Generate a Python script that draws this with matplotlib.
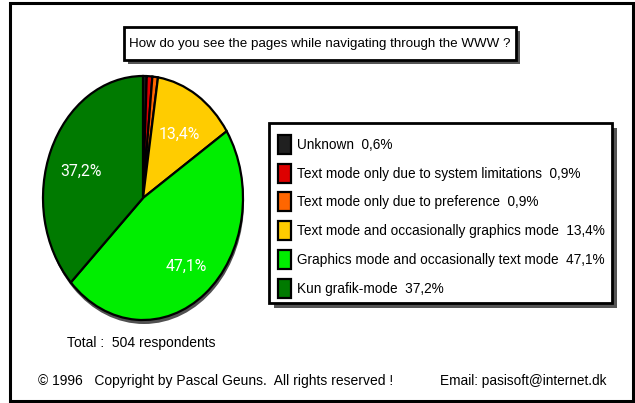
import matplotlib
matplotlib.use("Agg")
import matplotlib.pyplot as plt
from matplotlib.patches import Rectangle, Ellipse
import numpy as np

# ---- data ----
categories = [
    "Unknown",
    "Text mode only due to system limitations",
    "Text mode only due to preference",
    "Text mode and occasionally graphics mode",
    "Graphics mode and occasionally text mode",
    "Kun grafik-mode",
]
values = [0.6, 0.9, 0.9, 13.4, 47.1, 37.2]
colors = ["#202020", "#dd0000", "#ff6600", "#ffcc00", "#00ee00", "#007a00"]
title = "How do you see the pages while navigating through the WWW ?"
total_text = "Total :  504 respondents"
copyright_text = "\u00a9 1996   Copyright by Pascal Geuns.  All rights reserved !"
email_text = "Email: pasisoft@internet.dk"

def fmt(v):
    return f"{v:.1f}".replace(".", ",") + "%"

W, H = 635, 403
DPI = 100
FONT = ["Liberation Sans Narrow", "Liberation Sans", "DejaVu Sans"]

fig = plt.figure(figsize=(W / DPI, H / DPI), dpi=DPI)
fig.patch.set_facecolor("white")

# pixel-coordinate overlay axes
base = fig.add_axes([0, 0, 1, 1])
base.set_xlim(0, W)
base.set_ylim(H, 0)
base.axis("off")

# outer frame
base.add_patch(Rectangle((10, 3), 623, 398, fill=False, ec="black", lw=2.2))

# title box with shadow
base.add_patch(Rectangle((128, 31), 392, 33, fc="#555555", ec="none"))
base.add_patch(Rectangle((124, 27), 392, 33, fc="white", ec="black", lw=2))
base.text(320, 44, title, ha="center", va="center", fontsize=9.6, family=FONT)

# legend box with shadow
base.add_patch(Rectangle((274, 128), 343, 180, fc="#555555", ec="none"))
base.add_patch(Rectangle((269, 123), 343, 180, fc="white", ec="black", lw=2))
row_y0, row_dy = 144.5, 28.7
for i, (lab, v, c) in enumerate(zip(categories, values, colors)):
    y = row_y0 + i * row_dy
    base.add_patch(Rectangle((278, y - 9.5), 13, 19, fc=c, ec="black", lw=1.6))
    base.text(297, y + 0.5, f"{lab}  {fmt(v)}", ha="left", va="center",
              fontsize=9.85, family=FONT)

# footer texts
base.text(67, 343, total_text, ha="left", va="center", fontsize=10, family=FONT)
base.text(38, 381, copyright_text, ha="left", va="center", fontsize=10, family=FONT)
base.text(440, 381, email_text, ha="left", va="center", fontsize=9.85, family=FONT)

# pie shadow
pcx, pcy, prx, pry = 143, 198, 100, 122
base.add_patch(Ellipse((pcx + 1, pcy + 4), 2 * prx, 2 * pry, fc="#505050", ec="none"))

# pie axes (elliptical)
pax = fig.add_axes([(pcx - prx) / W, (H - (pcy + pry)) / H, 2 * prx / W, 2 * pry / H])
wedges, _ = pax.pie(values, colors=colors, startangle=90, counterclock=False,
                    wedgeprops=dict(edgecolor="black", linewidth=1.6))
pax.set_aspect("auto")
pax.set_xlim(-1, 1)
pax.set_ylim(-1, 1)
pax.axis("off")

# percentage labels inside the big slices (pie-axes units)
label_pos = {3: (0.36, 0.52), 4: (0.43, -0.56), 5: (-0.62, 0.22)}
for idx, (lx, ly) in label_pos.items():
    pax.text(lx, ly, fmt(values[idx]), ha="center", va="center", color="white",
             fontsize=11.3, family=["Roboto", "DejaVu Sans"])

fig.savefig("out.png", dpi=DPI)
